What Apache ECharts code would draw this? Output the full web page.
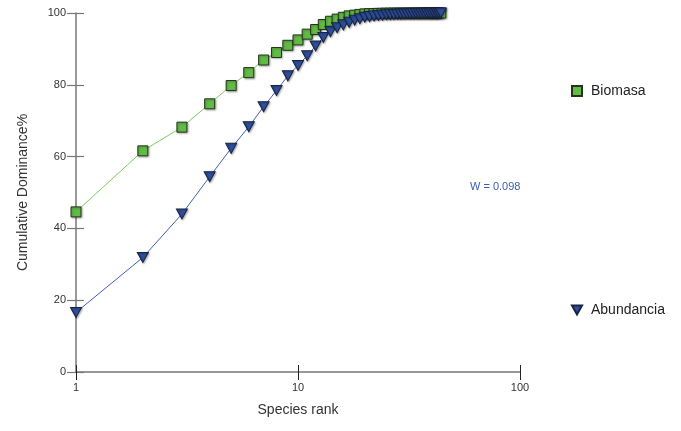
<!DOCTYPE html>
<html>
<head>
<meta charset="utf-8">
<script src="https://cdn.jsdelivr.net/npm/echarts@6/dist/echarts.min.js"></script>
<style>
  html, body { margin: 0; padding: 0; background: #fff; }
  #chart { width: 681px; height: 431px; }
</style>
</head>
<body>
<div id="chart"></div>
<script>
// 物种排名 1..44
var ranks = [1, 2, 3, 4, 5, 6, 7, 8, 9, 10, 11, 12, 13, 14, 15, 16, 17, 18, 19, 20, 21, 22,
  23, 24, 25, 26, 27, 28, 29, 30, 31, 32, 33, 34, 35, 36, 37, 38, 39, 40, 41, 42, 43, 44];
// 累计优势度 - Biomasa
var biomasa = [44.6, 61.6, 68.2, 74.7, 79.8, 83.4, 86.9, 89.0, 91.0, 92.5, 94.1, 95.4, 96.8,
  97.7, 98.3, 98.8, 99.2, 99.4, 99.6, 99.75, 99.82, 99.86, 99.89, 99.91, 99.93, 99.94, 99.95,
  99.96, 99.96, 99.97, 99.97, 99.98, 99.98, 99.98, 99.99, 99.99, 99.99, 99.99, 100, 100, 100,
  100, 100, 100];
// 累计优势度 - Abundancia
var abundancia = [16.6, 31.9, 44.0, 54.4, 62.3, 68.3, 73.9, 78.4, 82.5, 85.4, 88.1, 90.8, 93.2,
  94.8, 95.9, 96.7, 97.4, 98.0, 98.4, 98.8, 99.0, 99.2, 99.3, 99.4, 99.5, 99.55, 99.6, 99.65,
  99.7, 99.74, 99.78, 99.8, 99.83, 99.86, 99.88, 99.9, 99.92, 99.94, 99.95, 99.96, 99.97,
  99.98, 99.99, 100];
var xTicks = [1, 10, 100];
var yTicks = [0, 20, 40, 60, 80, 100];
var wText = 'W = 0.098';

var chart = echarts.init(document.getElementById('chart'));

function pairs(vals) {
  return ranks.map(function (r, i) { return [r, vals[i]]; });
}

var font = 'Liberation Sans, Arial, sans-serif';
var triDown = 'path://M0,0L10,0L5,9Z';

var option = {
  animation: false,
  grid: { left: 76, right: 161, top: 13, bottom: 59 },
  xAxis: [
    {
      type: 'log', logBase: 10, min: xTicks[0], max: xTicks[2],
      name: 'Species rank', nameLocation: 'middle', nameGap: 31,
      nameTextStyle: { fontFamily: font, fontSize: 14, color: '#333' },
      axisLine: { lineStyle: { color: '#777', width: 1.5 } },
      axisTick: { length: 8, lineStyle: { color: '#222' } },
      axisLabel: { fontFamily: font, fontSize: 11, color: '#333', margin: 10 },
      splitLine: { show: false }, minorTick: { show: false }
    },
    {
      // 内侧刻度
      type: 'log', logBase: 10, min: xTicks[0], max: xTicks[2],
      position: 'top', offset: -359,
      axisLine: { show: false },
      axisTick: { length: 7, lineStyle: { color: '#222' } },
      axisLabel: { show: false },
      splitLine: { show: false }
    }
  ],
  yAxis: [
    {
      type: 'value', min: 0, max: 100, interval: 20,
      name: 'Cumulative Dominance%', nameLocation: 'middle', nameGap: 46,
      nameTextStyle: { fontFamily: font, fontSize: 14, color: '#333' },
      axisLine: { show: true, lineStyle: { color: '#777', width: 1.5 } },
      axisTick: { show: true, length: 9, lineStyle: { color: '#777', width: 1.2 } },
      axisLabel: { fontFamily: font, fontSize: 11, color: '#333', margin: 10 },
      splitLine: { show: false }
    },
    {
      type: 'value', min: 0, max: 100, interval: 20,
      position: 'right', offset: -444,
      axisLine: { show: false },
      axisTick: { show: true, length: 8, lineStyle: { color: '#777', width: 1.2 } },
      axisLabel: { show: false },
      splitLine: { show: false }
    }
  ],
  legend: [
    {
      left: 566, top: 79, itemWidth: 10, itemHeight: 10,
      data: [{ name: 'Biomasa', icon: 'rect' }],
      textStyle: { fontFamily: font, fontSize: 14, color: '#222', padding: [0, 0, 0, 4] }
    },
    {
      left: 566, top: 298, itemWidth: 10, itemHeight: 9,
      data: [{ name: 'Abundancia', icon: triDown }],
      textStyle: { fontFamily: font, fontSize: 14, color: '#222', padding: [0, 0, 0, 4] }
    }
  ],
  graphic: [
    {
      type: 'text', left: 470, top: 181,
      style: { text: wText, fontFamily: font, fontSize: 11, fill: '#3a5db0' }
    }
  ],
  series: [
    {
      type: 'line',
      name: 'Biomasa',
      data: pairs(biomasa),
      clip: false,
      symbol: 'rect',
      symbolSize: 10,
      lineStyle: { color: '#7acc5a', width: 1 },
      itemStyle: {
        color: '#62bb46', borderColor: '#24351c', borderWidth: 1,
        shadowColor: 'rgba(0,0,0,0.3)', shadowBlur: 2, shadowOffsetX: 1, shadowOffsetY: 1
      }
    },
    {
      type: 'line',
      name: 'Abundancia',
      data: pairs(abundancia),
      clip: false,
      symbol: triDown,
      symbolSize: [11, 10],
      lineStyle: { color: '#3d5fb3', width: 1 },
      itemStyle: {
        color: '#2e4f9f', borderColor: '#1a2440', borderWidth: 1,
        shadowColor: 'rgba(0,0,0,0.3)', shadowBlur: 2, shadowOffsetX: 1, shadowOffsetY: 1
      }
    }
  ]
};

chart.setOption(option);
</script>
</body>
</html>
